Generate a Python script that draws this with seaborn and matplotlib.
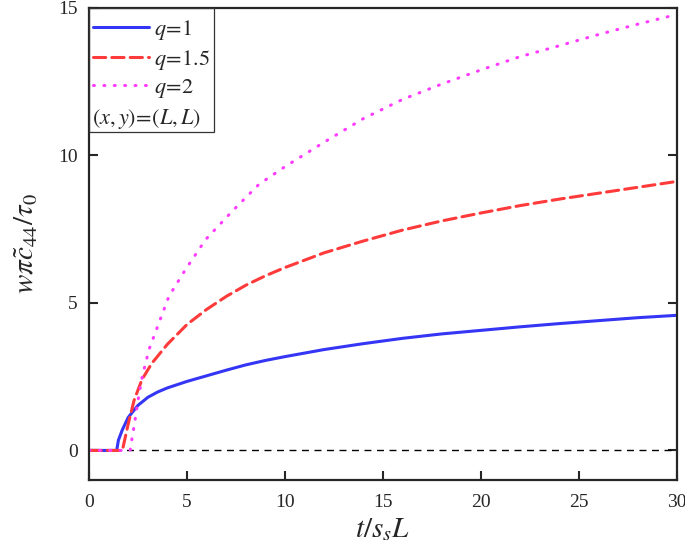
import matplotlib
matplotlib.use("Agg")
import matplotlib.pyplot as plt
from matplotlib.patches import Rectangle
import pandas as pd
import seaborn as sns

# values
t_q1 = [0, 1.41, 1.5, 1.7, 2.0, 2.5, 3.0, 3.5, 4.0, 5.0, 6.0, 7.0, 8.0, 9.0, 10.0,
        12.0, 14.0, 16.0, 18.0, 20.0, 22.0, 24.0, 26.0, 28.0, 30.0]
w_q1 = [0, 0, 0.35, 0.7, 1.12, 1.53, 1.8, 1.98, 2.12, 2.34, 2.53, 2.72, 2.9, 3.05, 3.18,
        3.42, 3.62, 3.8, 3.95, 4.07, 4.19, 4.3, 4.4, 4.5, 4.58]

t_q15 = [0, 1.7, 1.85, 2.0, 2.3, 2.7, 3.2, 4.0, 5.0, 6.0, 7.0, 8.0, 9.0, 10.0,
         12.0, 14.0, 16.0, 18.0, 20.0, 22.0, 24.0, 26.0, 28.0, 30.0]
w_q15 = [0, 0, 0.45, 0.9, 1.7, 2.4, 2.95, 3.6, 4.27, 4.78, 5.22, 5.6, 5.92, 6.2,
         6.7, 7.1, 7.47, 7.78, 8.05, 8.3, 8.52, 8.72, 8.92, 9.12]

t_q2 = [0, 2.1, 2.2, 2.3, 2.5, 2.72, 3.06, 3.57, 4.08, 4.93, 5.95, 7.31, 8.67, 10.0,
        12.0, 14.0, 16.0, 18.0, 20.0, 22.0, 24.0, 26.0, 28.0, 30.0]
w_q2 = [0, 0, 0.45, 0.82, 1.7, 2.52, 3.42, 4.33, 5.23, 6.14, 7.15, 8.11, 9.02, 9.62,
        10.45, 11.25, 11.9, 12.42, 12.9, 13.35, 13.72, 14.1, 14.45, 14.78]

series_labels = [r'$q\!=\!1$', r'$q\!=\!1.5$', r'$q\!=\!2$']
x_ticks = [0, 5, 10, 15, 20, 25, 30]
y_ticks = [0, 5, 10, 15]

sns.set_style("ticks")
plt.rcParams['font.family'] = ['Liberation Serif', 'DejaVu Serif']
plt.rcParams['mathtext.fontset'] = 'stix'

fig = plt.figure(figsize=(6.85, 5.51), dpi=100)
ax = fig.add_axes([0.130, 0.129, 0.858, 0.8565])

ax.axhline(0, color='black', lw=1.0, linestyle=(0, (5, 4)), zorder=1)

styles = [('#3535F5', '-'), ('#FF3A3A', (0, (4, 2))), ('#FF3CFF', (0, (0.3, 3.1)))]
data = [(t_q1, w_q1), (t_q15, w_q15), (t_q2, w_q2)]
handles = []
for (t, w), (col, ls), lab in zip(data, styles, series_labels):
    df = pd.DataFrame({'t': t, 'w': w})
    sns.lineplot(data=df, x='t', y='w', ax=ax, color=col, linewidth=2.2,
                 linestyle=ls, label=lab, zorder=2, dash_capstyle='round')
    handles.append(ax.lines[-1])

ax.set_xlim(0, 30)
ax.set_ylim(-1, 15)
ax.set_xticks(x_ticks)
ax.set_yticks(y_ticks)
ax.tick_params(direction='in', length=6.5, width=1.5, labelsize=14,
               right=True, top=False)
ax.tick_params(axis='x', pad=10)
ax.tick_params(axis='y', pad=8)
for s in ax.spines.values():
    s.set_linewidth(1.6)

ax.set_xlabel(r'$t/s_sL$', fontsize=21, labelpad=4)
ax.set_ylabel(r'$w\pi\tilde{c}_{44}/\tau_0$', fontsize=21, labelpad=13)

leg = ax.legend(handles=handles, labels=series_labels, loc='upper left',
                bbox_to_anchor=(-0.010, 1.0), borderaxespad=0, borderpad=0.45,
                frameon=False, fontsize=16, handlelength=2.5,
                handletextpad=0.22, labelspacing=0.25)
ax.text(0.005, 0.764, r'$(x,y)\!=\!(L,L)$', transform=ax.transAxes,
        fontsize=16, va='center', ha='left')
ax.add_patch(Rectangle((0, 0.738), 0.213, 0.262, transform=ax.transAxes,
                       fill=False, edgecolor='#333333', lw=0.9, zorder=5))

fig.savefig('out.png', dpi=100)
